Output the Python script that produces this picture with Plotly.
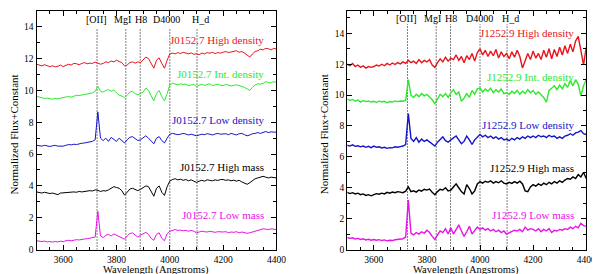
import numpy as np
import plotly.graph_objects as go

# ---------------- data ----------------
wave = np.arange(3500, 4401, 10)  # wavelength grid (Angstroms)

# Left panel: J0152.7
j0152_high_density = [11.65, 11.6, 11.55, 11.62, 11.58, 11.5, 11.55, 11.48, 11.52, 11.6,
    11.5, 11.58, 11.65, 11.6, 11.7, 11.68, 11.62, 11.7, 11.75, 11.68,
    11.72, 11.7, 11.78, 11.72, 11.65, 11.7, 11.8, 11.75, 11.85, 11.8,
    11.9, 11.82, 11.75, 11.55, 11.6, 11.75, 11.8, 11.72, 11.8, 11.75,
    11.9, 12.1, 12.0, 11.7, 11.4, 11.9, 12.05, 11.7, 11.4, 11.9,
    12.3, 12.35, 12.3, 12.38, 12.32, 12.4, 12.35, 12.3, 12.36, 12.28,
    12.3, 12.25, 12.35, 12.3, 12.38, 12.34, 12.4, 12.32, 12.38, 12.35,
    12.4, 12.45, 12.38, 12.42, 12.45, 12.5, 12.4, 12.45, 12.35, 12.2,
    12.1, 12.3, 12.45, 12.5, 12.6, 12.55, 12.65, 12.62, 12.55, 12.65,
    12.6]
j0152_int_density = [9.63, 9.6, 9.55, 9.5, 9.52, 9.48, 9.45, 9.5, 9.47, 9.52,
    9.55, 9.6, 9.62, 9.58, 9.65, 9.7, 9.68, 9.72, 9.75, 9.8,
    9.82, 9.85, 9.95, 10.25, 9.95, 9.9, 10.0, 10.05, 9.95, 10.02,
    9.85, 9.7, 9.65, 9.55, 9.7, 9.9, 9.95, 9.8, 9.72, 9.8,
    9.9, 10.15, 10.0, 9.65, 9.35, 9.8, 10.0, 9.6, 9.35, 9.8,
    10.35, 10.45, 10.4, 10.35, 10.42, 10.38, 10.4, 10.3, 10.35, 10.38,
    10.25, 10.35, 10.4, 10.32, 10.38, 10.42, 10.3, 10.35, 10.4, 10.33,
    10.3, 10.38, 10.35, 10.28, 10.32, 10.36, 10.3, 10.25, 10.2, 10.1,
    10.0, 10.2, 10.35, 10.42, 10.4, 10.45, 10.55, 10.5, 10.48, 10.55,
    10.5]
j0152_low_density = [6.55, 6.52, 6.5, 6.55, 6.5, 6.48, 6.52, 6.55, 6.5, 6.48,
    6.5, 6.55, 6.6, 6.58, 6.62, 6.6, 6.65, 6.68, 6.7, 6.72,
    6.75, 6.8, 6.9, 8.65, 7.0, 6.85, 7.0, 6.8, 7.05, 6.9,
    6.8, 7.0, 6.85, 6.7, 6.9, 7.05, 7.1, 6.95, 6.85, 6.9,
    7.0, 7.15, 7.0, 6.8, 6.65, 7.0, 7.1, 6.85, 6.7, 7.0,
    7.25, 7.3, 7.28, 7.22, 7.25, 7.3, 7.26, 7.2, 7.25, 7.22,
    7.15, 7.2, 7.25, 7.22, 7.28, 7.25, 7.2, 7.26, 7.3, 7.25,
    7.25, 7.28, 7.22, 7.3, 7.25, 7.2, 7.28, 7.3, 7.22, 7.15,
    7.2, 7.28, 7.3, 7.35, 7.3, 7.38, 7.42, 7.35, 7.4, 7.38,
    7.38]
j0152_high_mass = [3.62, 3.58, 3.55, 3.6, 3.56, 3.52, 3.55, 3.5, 3.45, 3.55,
    3.57, 3.55, 3.58, 3.6, 3.62, 3.6, 3.65, 3.62, 3.66, 3.7,
    3.7, 3.68, 3.75, 3.72, 3.65, 3.7, 3.68, 3.75, 3.85, 3.95,
    3.9, 3.85, 3.7, 3.42, 3.6, 3.8, 3.85, 3.75, 3.7, 3.78,
    3.9, 4.0, 3.95, 3.6, 3.35, 3.85, 4.0, 3.6, 3.4, 3.95,
    4.3, 4.4, 4.45, 4.38, 4.42, 4.35, 4.4, 4.32, 4.38, 4.3,
    4.22, 4.3, 4.35, 4.3, 4.38, 4.35, 4.32, 4.38, 4.34, 4.4,
    4.4, 4.35, 4.38, 4.32, 4.36, 4.3, 4.35, 4.25, 4.15, 4.1,
    4.2, 4.35, 4.45, 4.5, 4.55, 4.6, 4.55, 4.5, 4.55, 4.52,
    4.5]
j0152_low_mass = [0.55, 0.52, 0.5, 0.53, 0.48, 0.5, 0.47, 0.5, 0.48, 0.52,
    0.5, 0.55, 0.58, 0.55, 0.6, 0.62, 0.6, 0.65, 0.66, 0.68,
    0.7, 0.72, 0.78, 2.4, 0.85, 0.75, 0.9, 0.95, 0.85, 0.98,
    0.9, 0.8, 0.72, 0.65, 0.85, 1.0, 1.05, 0.9, 0.78, 0.9,
    1.0, 1.08, 0.95, 0.7, 0.58, 0.95, 1.05, 0.7, 0.55, 1.0,
    1.15, 1.2, 1.25, 1.2, 1.22, 1.18, 1.2, 1.15, 1.2, 1.15,
    1.05, 1.1, 1.15, 1.12, 1.1, 1.15, 1.12, 1.08, 1.12, 1.1,
    1.1, 1.12, 1.06, 1.1, 1.08, 1.12, 1.05, 1.1, 1.08, 1.02,
    1.05, 1.1, 1.15, 1.2, 1.25, 1.3, 1.28, 1.25, 1.3, 1.26,
    1.25]

# Right panel: J1252.9
j1252_high_density = [12.0, 11.9, 12.05, 11.85, 11.95, 11.8, 11.9, 11.75, 11.85, 11.8,
    11.85, 11.95, 11.88, 12.0, 11.9, 12.05, 11.95, 12.08, 11.98, 12.1,
    12.02, 12.15, 12.05, 12.25, 12.1, 12.2, 12.05, 12.3, 12.1, 12.25,
    12.15, 12.3, 11.95, 11.8, 12.1, 12.35, 12.15, 12.45, 12.2, 12.4,
    12.3, 12.6, 12.25, 12.5, 12.1, 12.55, 12.3, 12.7, 12.2, 12.75,
    13.0, 12.6, 12.9, 12.5, 12.85, 12.55, 12.95, 12.4, 12.8, 12.5,
    12.7, 12.35, 12.8, 12.45, 12.9, 12.5, 11.75, 12.2, 12.7, 12.3,
    12.85, 12.4, 12.7, 12.3, 12.9, 12.45, 13.0, 12.35, 12.95, 12.5,
    13.1, 12.6, 13.2, 12.7, 13.3, 12.8, 13.5, 13.8, 12.9, 11.95,
    13.1]
j1252_int_density = [9.75, 9.65, 9.72, 9.6, 9.68, 9.55, 9.65, 9.58, 9.62, 9.55,
    9.6, 9.52, 9.62, 9.55, 9.6, 9.5, 9.58, 9.55, 9.62, 9.58,
    9.62, 9.6, 9.65, 11.0, 10.0, 9.85, 10.05, 9.9, 10.1, 9.95,
    10.05, 9.9, 9.7, 9.45, 9.8, 10.05, 9.9, 10.1, 9.85, 10.15,
    10.35, 10.05, 10.2, 9.6, 9.8, 10.1, 9.85, 10.3, 10.05, 10.4,
    10.45, 10.2, 10.4, 10.25, 10.45, 10.15, 10.35, 10.2, 10.4, 10.1,
    10.15, 10.05, 10.25, 10.1, 10.3, 10.05, 10.25, 10.1, 10.35, 10.15,
    10.3, 10.05, 10.2, 10.0, 9.85, 9.55, 10.3, 10.45, 10.6, 10.35,
    10.65, 10.4, 10.75, 10.5, 10.95, 10.6, 11.0, 10.7, 9.95, 10.6,
    11.0]
j1252_low_density = [6.75, 6.7, 6.78, 6.68, 6.72, 6.65, 6.7, 6.62, 6.68, 6.6,
    6.7, 6.62, 6.65, 6.58, 6.62, 6.55, 6.6, 6.58, 6.65, 6.62,
    6.66, 6.7, 6.8, 8.8, 7.2, 7.0, 7.25, 6.95, 7.15, 7.0,
    7.1, 6.95, 6.85, 6.7, 6.95, 7.15, 7.3, 7.05, 6.95, 7.1,
    7.2, 7.35, 7.1, 6.85, 7.0, 7.35, 7.1, 6.8, 7.1, 7.3,
    7.45, 7.3, 7.4, 7.25, 7.35, 7.2, 7.3, 7.15, 7.25, 7.1,
    7.15, 7.05, 7.2, 7.1, 7.25, 7.15, 7.3, 7.2, 7.35, 7.25,
    7.35, 7.25, 7.4, 7.3, 7.35, 7.25, 7.4, 7.3, 7.35, 7.2,
    7.3, 7.2, 7.35, 7.4, 7.5, 7.4, 7.55, 7.6, 7.7, 7.5,
    7.45]
j1252_high_mass = [3.7, 3.62, 3.68, 3.6, 3.65, 3.55, 3.6, 3.5, 3.55, 3.48,
    3.55, 3.62, 3.58, 3.65, 3.6, 3.7, 3.65, 3.72, 3.68, 3.75,
    3.72, 3.68, 3.78, 4.05, 3.75, 3.8, 3.72, 3.85, 3.78, 3.9,
    3.85, 3.92, 3.7, 3.55, 3.75, 3.9, 3.85, 4.0, 3.8, 3.85,
    4.05, 4.25, 4.0, 3.75, 3.6, 4.2, 3.95, 3.6, 3.8, 4.25,
    4.4, 4.3, 4.42, 4.35, 4.45, 4.3, 4.4, 4.32, 4.45, 4.3,
    4.25, 4.35, 4.28, 4.4, 4.3, 4.42, 4.25, 3.8, 3.75, 4.05,
    4.2, 4.1, 4.25, 4.15, 4.3, 4.2, 4.35, 4.25, 4.4, 4.3,
    4.45, 4.35, 4.5, 4.6, 4.55, 4.7, 4.6, 4.85, 4.7, 5.0,
    4.6]
j1252_low_mass = [0.78, 0.72, 0.76, 0.68, 0.72, 0.65, 0.7, 0.62, 0.66, 0.6,
    0.65, 0.6, 0.64, 0.58, 0.62, 0.56, 0.6, 0.58, 0.63, 0.65,
    0.66, 0.7, 0.8, 3.2, 1.05, 0.95, 1.1, 1.0, 1.15, 1.05,
    1.25, 1.1, 0.85, 0.65, 0.95, 1.2, 1.1, 1.35, 1.0, 1.4,
    1.0, 1.3, 1.6, 1.2, 0.85, 1.15, 1.5, 1.0, 1.2, 1.45,
    1.3, 1.4, 1.25, 1.35, 1.2, 1.3, 1.15, 1.25, 1.1, 1.2,
    1.0, 1.1, 1.15, 1.25, 1.2, 1.3, 1.15, 1.45, 1.25, 1.35,
    1.3, 1.2, 1.35, 1.15, 1.3, 1.2, 1.35, 1.1, 1.25, 1.2,
    1.3, 1.25, 1.35, 1.3, 1.45, 1.35, 1.5, 1.4, 1.7, 1.55,
    1.5]

series_names = ["High density", "Int. density", "Low density", "High mass", "Low mass"]
left_series = [j0152_high_density, j0152_int_density, j0152_low_density, j0152_high_mass, j0152_low_mass]
right_series = [j1252_high_density, j1252_int_density, j1252_low_density, j1252_high_mass, j1252_low_mass]
left_label_y = [13.2, 11.05, 8.15, 5.2, 2.15]
right_label_y = [14.0, 11.2, 8.08, 5.28, 2.23]

feature_waves = [3727, 3835, 3889, 4000, 4102]
feature_names = ["[OII]", "MgI", "H8", "D4000", "H_d"]

colors = ["#e8141c", "#2ee82e", "#1414c8", "#000000", "#e614e6"]

FONT = "Liberation Serif"

fig = go.Figure()

def add_panel(series, xa, ya, cluster, label_y, lw, line_top, feat_y, feat_dx):
    for w in feature_waves:
        fig.add_trace(go.Scatter(x=[w, w], y=[0, line_top], mode="lines",
                                 line=dict(color="black", width=1, dash="1px,2px"),
                                 xaxis=xa, yaxis=ya, showlegend=False, hoverinfo="skip"))
    for s, c, name, ly in zip(series, colors, series_names, label_y):
        fig.add_trace(go.Scatter(x=wave, y=s, mode="lines", line=dict(color=c, width=lw),
                                 xaxis=xa, yaxis=ya, showlegend=False))
        fig.add_annotation(x=4360, y=ly, xref=xa, yref=ya, text=f"{cluster} {name}",
                           showarrow=False, xanchor="right", yanchor="middle",
                           font=dict(family=FONT, size=11, color=c))
    for w, n, dx in zip(feature_waves, feature_names, feat_dx):
        fig.add_annotation(x=w, y=feat_y, xref=xa, yref=ya, text=n, showarrow=False,
                           xanchor="center", yanchor="middle", xshift=dx,
                           font=dict(family=FONT, size=10, color="black"))

add_panel(left_series, "x", "y", "J0152.7", left_label_y, 1.0, 13.95, 14.45, [-1, -3, 1, -3, 3])
add_panel(right_series, "x2", "y2", "J1252.9", right_label_y, 1.4, 14.6, 14.95, [-1, -4, 0, -1, 3])

axis_common = dict(showline=True, linecolor="black", linewidth=1, mirror="allticks",
                   ticks="inside", ticklen=5, tickcolor="black", showgrid=False, zeroline=False,
                   tickfont=dict(family=FONT, size=9.5, color="black"))

fig.update_layout(
    width=600, height=274, margin=dict(l=0, r=0, t=0, b=0),
    paper_bgcolor="white", plot_bgcolor="white",
    xaxis=dict(domain=[29/600, 273/600], range=[3500, 4400], tickvals=[3600, 3800, 4000, 4200, 4400],
               ticklabelstandoff=1,
               minor=dict(dtick=50, tick0=3500, ticklen=3, ticks="inside", tickcolor="black"), anchor="y", **axis_common),
    yaxis=dict(domain=[1-246/274, 1-3/274], range=[0, 15], tickvals=[0, 2, 4, 6, 8, 10, 12, 14],
               minor=dict(dtick=1, ticklen=3, ticks="inside", tickcolor="black"), anchor="x", **axis_common),
    xaxis2=dict(domain=[345/600, 588/600], range=[3500, 4400], tickvals=[3600, 3800, 4000, 4200, 4400],
                ticklabelstandoff=1,
                minor=dict(dtick=50, tick0=3500, ticklen=3, ticks="inside", tickcolor="black"), anchor="y2", **axis_common),
    yaxis2=dict(domain=[1-246/274, 1-3/274], range=[0, 15.45], tickvals=[0, 2, 4, 6, 8, 10, 12, 14],
                minor=dict(dtick=1, ticklen=3, ticks="inside", tickcolor="black"), anchor="x2", **axis_common),
)

# axis titles
for xc in [151/600, 466/600]:
    fig.add_annotation(x=xc, y=0, xref="paper", yref="paper", text="Wavelength (Angstroms)",
                       showarrow=False, xanchor="center", yanchor="bottom", borderpad=0,
                       font=dict(family=FONT, size=10.5, color="black"))
for xc in [6/600, 321/600]:
    fig.add_annotation(x=xc, y=(274-129)/274, xref="paper", yref="paper", text="Normalized Flux+Constant",
                       showarrow=False, xanchor="center", yanchor="middle", textangle=-90,
                       font=dict(family=FONT, size=11, color="black"))

fig.write_html("out.html")
